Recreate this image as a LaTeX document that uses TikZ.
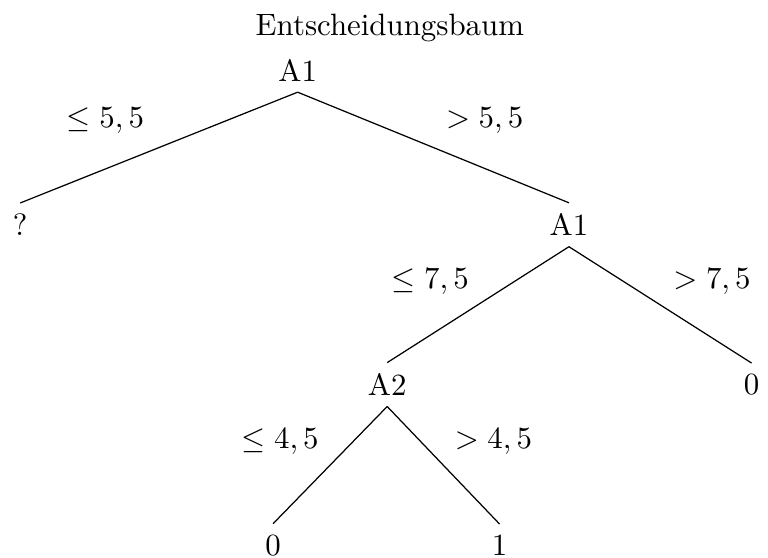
\documentclass[tikz,border=0pt]{standalone}
\usepackage{amsmath, amsfonts, amssymb}
\usepackage{tikz}
\usetikzlibrary{positioning}

\begin{document}
\begin{tikzpicture}[auto, leaf/.style={text centered}, cond/.style={text centered}]
    \useasboundingbox (0,0) rectangle (8.747,-6.355);
    \node (title) at (4.44,-0.32) {Entscheidungsbaum};

    \node (a1)  [leaf] at (3.39,-0.80) {A1};
    \node (unk) [leaf] at (0.23,-2.56) {?};
    \node (a1b) [leaf] at (6.48,-2.56) {A1};
    \node (a2)  [leaf] at (4.41,-4.38) {A2};
    \node (z1)  [leaf] at (8.56,-4.38) {0};
    \node (z2)  [leaf] at (3.11,-6.21) {0};
    \node (one) [leaf] at (5.69,-6.21) {1};

    \draw (a1.south) -- (unk.north);
    \draw (a1.south) -- (a1b.north);
    \draw (a1b.south) -- (a2.north);
    \draw (a1b.south) -- (z1.north);
    \draw (a2.south) -- (z2.north);
    \draw (a2.south) -- (one.north);

    \node (c1) [cond] at (1.20,-1.37) {$\leq 5,5$};
    \node (c2) [cond] at (5.52,-1.37) {$> 5,5$};
    \node (c3) [cond] at (4.90,-3.21) {$\leq 7,5$};
    \node (c4) [cond] at (8.11,-3.21) {$> 7,5$};
    \node (c5) [cond] at (3.19,-5.03) {$\leq 4,5$};
    \node (c6) [cond] at (5.62,-5.03) {$> 4,5$};
\end{tikzpicture}
\end{document}
